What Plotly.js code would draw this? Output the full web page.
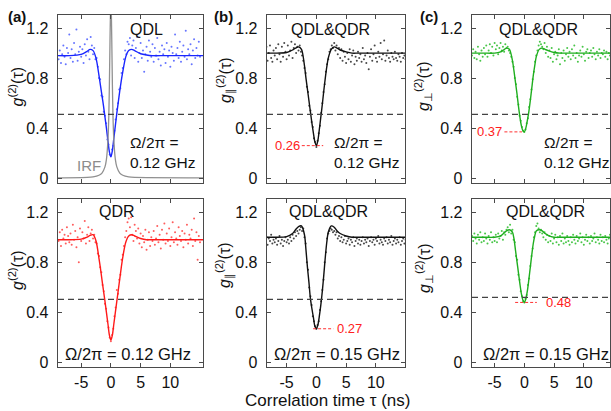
<!DOCTYPE html>
<html><head><meta charset="utf-8">
<script src="https://cdn.plot.ly/plotly-3.0.1.min.js"></script>
<style>html,body{margin:0;padding:0;background:#fff}#chart{width:611px;height:411px}</style>
</head><body><div id="chart"></div>
<script>
// ---------- data ----------
const tau = [
-8.8,-8.6,-8.4,-8.2,-8.0,-7.8,-7.6,-7.4,-7.2,-7.0,
-6.8,-6.6,-6.4,-6.2,-6.0,-5.8,-5.6,-5.4,-5.2,-5.0,
-4.8,-4.6,-4.4,-4.2,-4.0,-3.8,-3.6,-3.4,-3.2,-3.0,
-2.8,-2.6,-2.4,-2.2,-2.0,-1.8,-1.6,-1.4,-1.2,-1.0,
-0.8,-0.6,-0.4,-0.2,0.0,0.2,0.4,0.6,0.8,1.0,
1.2,1.4,1.6,1.8,2.0,2.2,2.4,2.6,2.8,3.0,
3.2,3.4,3.6,3.8,4.0,4.2,4.4,4.6,4.8,5.0,
5.2,5.4,5.6,5.8,6.0,6.2,6.4,6.6,6.8,7.0,
7.2,7.4,7.6,7.8,8.0,8.2,8.4,8.6,8.8,9.0,
9.2,9.4,9.6,9.8,10.0,10.2,10.4,10.6,10.8,11.0,
11.2,11.4,11.6,11.8,12.0,12.2,12.4,12.6,12.8,13.0,
13.2,13.4,13.6,13.8,14.0,14.2,14.4,14.6,14.8,15.0];

const qdlData = [
0.95,1.02,0.92,0.99,1.06,0.97,0.91,1.04,1.00,1.15,
0.96,1.03,0.93,1.08,0.99,1.19,0.94,1.01,1.05,0.97,
1.03,0.92,1.07,0.98,1.11,1.01,0.95,1.13,1.06,0.99,
1.04,0.95,0.96,0.89,0.80,0.79,0.66,0.65,0.53,0.50,
0.44,0.31,0.27,0.19,0.18,0.23,0.26,0.38,0.47,0.55,
0.60,0.71,0.72,0.84,0.88,0.95,1.02,0.99,1.09,1.07,
1.12,0.98,1.06,1.10,0.96,1.04,1.13,0.93,1.00,1.08,
0.96,1.02,0.85,0.99,1.05,0.94,1.10,1.01,0.97,1.07,
0.93,1.04,0.98,1.12,0.95,1.01,0.90,1.06,0.99,1.03,
0.92,1.08,0.97,1.02,0.89,1.05,1.00,0.94,1.15,0.99,
1.04,0.96,1.09,0.93,1.01,1.06,0.97,1.18,0.95,1.03,
0.99,1.07,0.91,1.02,1.11,0.96,1.04,0.98,1.09,0.97];

const qdrData = [
0.97,1.04,0.93,1.06,0.99,1.02,0.95,1.08,1.01,0.96,
1.03,0.94,1.10,0.98,1.05,0.92,1.00,0.80,1.07,0.97,
1.04,0.99,1.13,0.95,1.02,1.08,0.97,1.03,1.06,0.99,
1.02,0.96,0.95,0.87,0.85,0.76,0.72,0.62,0.57,0.47,
0.43,0.33,0.28,0.20,0.17,0.22,0.27,0.37,0.44,0.58,
0.55,0.66,0.70,0.82,0.86,0.93,1.00,1.05,1.12,1.15,
1.08,1.16,1.02,0.97,1.10,1.05,0.99,1.07,0.95,1.03,
0.92,1.01,0.96,1.06,0.90,0.98,1.04,0.93,1.00,0.97,
1.05,0.94,0.99,1.09,0.96,1.02,0.91,1.06,0.98,1.11,
0.95,1.03,0.97,1.07,0.93,1.00,1.12,0.96,1.04,0.99,
0.94,1.08,1.01,0.97,1.05,0.92,1.03,0.98,1.10,0.95,
1.02,0.99,1.06,0.93,1.15,0.97,1.04,0.82,1.01,0.96];

const parData012 = [
1.03,0.97,1.05,0.94,1.00,1.06,0.96,0.93,1.02,0.98,
1.04,0.95,1.07,0.99,0.93,1.05,0.97,1.08,1.01,0.95,
1.06,0.98,1.02,1.09,0.96,1.04,1.07,1.00,1.05,1.02,
1.06,1.01,0.98,0.94,0.88,0.84,0.73,0.69,0.58,0.54,
0.45,0.41,0.32,0.29,0.25,0.30,0.36,0.42,0.52,0.60,
0.69,0.75,0.85,0.91,0.95,1.01,1.03,1.06,1.04,1.08,
1.02,1.06,0.99,1.04,0.96,1.03,0.94,1.01,0.97,0.92,
1.00,0.95,1.03,0.93,0.98,1.02,0.91,0.97,0.94,1.01,
0.96,0.99,0.93,1.04,0.95,0.98,0.92,1.00,0.87,0.97,
1.03,0.94,0.99,1.06,0.96,0.93,1.01,0.97,1.08,0.95,
0.99,1.10,0.94,0.98,1.02,0.96,0.93,1.00,0.97,0.95,
1.01,0.96,0.94,0.99,0.97,0.93,1.00,0.96,0.98,0.95];

const parData015 = [
0.98,0.96,1.00,0.94,0.99,0.97,1.02,0.95,0.98,0.96,
0.99,0.94,0.97,1.01,0.95,0.98,0.93,0.97,1.00,0.96,
0.98,0.95,1.00,0.97,1.02,0.99,1.04,1.01,1.05,1.03,
1.06,1.08,1.05,1.07,1.00,0.95,0.80,0.74,0.60,0.53,
0.46,0.37,0.33,0.29,0.27,0.30,0.33,0.42,0.49,0.58,
0.66,0.80,0.88,0.99,1.03,1.05,1.07,1.06,1.04,1.05,
1.02,1.04,0.99,1.01,0.97,1.00,0.96,0.98,1.01,0.95,
0.97,0.99,0.94,0.98,0.96,1.00,0.93,0.97,0.99,0.95,
0.98,0.94,0.97,1.00,0.95,0.98,0.96,0.99,0.93,0.97,
1.00,0.96,0.98,0.94,0.99,0.97,1.01,0.95,0.98,0.96,
0.94,0.99,0.97,1.00,0.95,0.98,0.96,1.01,0.94,0.97,
0.99,0.95,0.98,0.96,1.00,0.94,0.97,0.99,0.95,0.98];

const perpData012 = [
0.98,1.03,0.96,1.01,0.95,1.05,0.99,0.94,1.02,0.97,
1.04,0.99,1.06,0.97,1.02,1.07,1.00,1.05,0.98,1.08,
1.03,1.06,0.99,1.04,1.08,1.02,1.05,1.01,1.07,1.04,
1.05,1.02,1.00,0.97,0.93,0.89,0.80,0.75,0.65,0.59,
0.50,0.46,0.41,0.38,0.37,0.39,0.44,0.48,0.57,0.63,
0.71,0.79,0.85,0.93,0.98,1.02,1.06,1.09,1.07,1.05,
1.03,1.08,1.00,1.05,0.97,1.02,0.96,1.04,0.93,0.99,
1.01,0.95,0.98,1.03,0.91,1.00,0.96,1.02,0.94,0.99,
1.04,0.97,1.01,0.95,1.03,0.98,1.06,0.96,1.00,0.93,
0.98,1.02,0.97,1.05,0.99,0.94,1.01,1.03,0.96,1.00,
1.02,0.97,1.04,0.99,0.95,1.01,0.98,1.03,0.96,1.00,
0.99,1.02,0.97,1.01,0.95,1.00,0.98,1.03,0.97,0.99];

const perpData015 = [
1.01,0.97,1.03,0.99,0.95,1.02,0.98,1.04,0.96,1.00,
0.97,1.03,0.99,0.95,1.01,0.98,1.04,0.96,1.00,0.97,
1.02,0.96,1.03,0.99,1.01,1.05,0.98,1.04,1.02,1.06,
1.08,1.04,1.10,1.03,1.06,0.98,0.96,0.85,0.82,0.70,
0.66,0.57,0.53,0.49,0.48,0.51,0.54,0.62,0.67,0.77,
0.85,0.91,1.00,1.04,1.09,1.11,1.07,1.04,1.06,1.03,
1.00,1.04,0.98,1.02,0.96,1.01,0.97,1.03,0.95,0.99,
1.02,0.96,1.00,0.94,1.01,0.97,1.03,0.95,0.99,0.96,
1.01,0.97,0.94,1.00,0.96,1.02,0.98,0.95,1.01,0.97,
0.99,1.03,0.96,1.00,0.94,0.98,1.02,0.97,1.00,0.95,
1.01,0.97,0.99,1.03,0.96,1.00,0.98,0.95,1.02,0.97,
1.00,0.96,1.01,0.98,0.95,0.99,1.02,0.97,1.00,0.98];

// fitted curves
const fitT = [-9,-7,-5,-4,-3.5,-3,-2.5,-2,-1.75,-1.5,-1.25,-1,-0.75,-0.5,-0.25,0,0.25,0.5,0.75,1,1.25,1.5,1.75,2,2.5,3,3.5,4,5,6,7,9,12,15.5];
const qdlFit = [0.98,0.98,0.99,1.015,1.03,1.02,0.96,0.82,0.74,0.66,0.58,0.49,0.40,0.30,0.21,0.17,0.22,0.32,0.42,0.52,0.61,0.70,0.78,0.85,0.97,1.02,1.03,1.02,0.995,0.985,0.98,0.98,0.98,0.98];
const qdrFit = [0.98,0.98,0.985,1.0,1.015,1.02,0.97,0.83,0.75,0.66,0.575,0.49,0.40,0.31,0.22,0.18,0.22,0.31,0.40,0.49,0.58,0.67,0.76,0.84,0.96,1.01,1.02,1.01,0.99,0.98,0.98,0.98,0.98,0.98];
const parFit012 = [1.0,1.0,1.005,1.025,1.04,1.05,1.03,0.90,0.80,0.71,0.62,0.53,0.44,0.36,0.29,0.26,0.30,0.39,0.49,0.59,0.70,0.80,0.89,0.96,1.03,1.05,1.04,1.025,1.01,1.0,1.0,1.0,1.0,1.0];
const parFit015 = [1.0,1.0,1.005,1.03,1.06,1.085,1.09,1.02,0.90,0.76,0.64,0.51,0.43,0.36,0.29,0.27,0.30,0.37,0.46,0.57,0.70,0.84,0.96,1.04,1.09,1.08,1.05,1.03,1.01,1.0,1.0,1.0,1.0,1.0];
const perpFit012 = [1.0,1.0,1.0,1.01,1.025,1.04,1.03,0.94,0.86,0.77,0.68,0.58,0.49,0.42,0.38,0.37,0.40,0.46,0.53,0.62,0.72,0.82,0.90,0.97,1.03,1.04,1.03,1.02,1.005,1.0,1.0,1.0,1.0,1.0];
const perpFit015 = [1.0,1.0,1.0,1.01,1.03,1.05,1.06,1.04,0.99,0.90,0.81,0.72,0.63,0.55,0.50,0.48,0.51,0.57,0.66,0.76,0.86,0.95,1.01,1.05,1.06,1.05,1.03,1.015,1.0,1.0,1.0,1.0,1.0,1.0];

// instrument response function
const irfT = [-9,-4,-3,-2,-1.5,-1,-0.75,-0.5,-0.35,-0.25,-0.15,0,0.15,0.25,0.35,0.5,0.75,1,1.5,2,3,4,15.5];
const irfY = [0.002,0.006,0.01,0.023,0.04,0.09,0.15,0.3,0.5,0.75,1.1,1.5,1.1,0.75,0.5,0.3,0.15,0.09,0.04,0.023,0.01,0.006,0.002];

// reference level (dashed) and dip minima (red labels)
const dashLevels = [0.51, 0.51, 0.51, 0.505, 0.505, 0.52];
const minValues = [0.26, 0.37, 0.27, 0.48];

const xTickVals = [-5, 0, 5, 10];
const xTickText = ['-5', '0', '5', '10'];
const yTickVals = [0, 0.4, 0.8, 1.2];
const yTickText = ['0', '0.4', '0.8', '1.2'];

const panelTitles = ['QDL', 'QDL&QDR', 'QDL&QDR', 'QDR', 'QDL&QDR', 'QDL&QDR'];
const rabiTexts = ['Ω/2π =<br>0.12 GHz', 'Ω/2π =<br>0.12 GHz', 'Ω/2π =<br>0.12 GHz',
                   'Ω/2π = 0.12 GHz', 'Ω/2π = 0.15 GHz', 'Ω/2π = 0.15 GHz'];
const yTitles = ['<i>g</i><sup>(2)</sup>(τ)', '<i>g</i><sub>∥</sub><sup>(2)</sup>(τ)', '<i>g</i><sub>⊥</sub><sup>(2)</sup>(τ)',
                 '<i>g</i><sup>(2)</sup>(τ)', '<i>g</i><sub>∥</sub><sup>(2)</sup>(τ)', '<i>g</i><sub>⊥</sub><sup>(2)</sup>(τ)'];
const panelLetters = ['(a)', '(b)', '(c)'];
const xTitle = 'Correlation time τ (ns)';

// ---------- layout / styling ----------
const W = 611, H = 411;
const FONT = '"Liberation Sans", Arial, sans-serif';
const AX = '#4a4a4a';
const series = [
  {data: qdlData,     fit: qdlFit,     dot: '#5566ff', line: '#1a26ff'},
  {data: parData012,  fit: parFit012,  dot: '#333333', line: '#111111'},
  {data: perpData012, fit: perpFit012, dot: '#35c035', line: '#1fae1f'},
  {data: qdrData,     fit: qdrFit,     dot: '#ff4a4a', line: '#ff1a1a'},
  {data: parData015,  fit: parFit015,  dot: '#333333', line: '#111111'},
  {data: perpData015, fit: perpFit015, dot: '#35c035', line: '#1fae1f'}
];
const cols = [{px:[58,203], xr:[-8.9,15.5]}, {px:[267,405], xr:[-8.3,14.9]}, {px:[472,610], xr:[-8.8,14.4]}];
const rows = [{py:[15,182.5]}, {py:[199,367]}];
const yRange = [-0.035, 1.305];

// in-panel text positions (data coords)
const titlePos = [[6.0,1.19],[2.3,1.19],[2.35,1.19],[1.1,1.203],[2.0,1.203],[3.48,1.203]];
const rabiPos  = [[2.9,0.205,'left',15.5],[2.67,0.205,'left',15.5],[3.0,0.205,'left',15.5],
                  [2.8,0.069,'center',16.5],[3.55,0.069,'center',16.5],[3.6,0.069,'center',16.5]];
const yTitlePx = [[16,86.5],[225,80],[423,86],[16,270],[224,265],[424,268]];
// red minima markers: [panel, dash x0, dash x1, text x, anchor]
const minMarks = [[1,-2.45,1.15,-2.5,'right'],[2,-3.35,-0.4,-3.4,'right'],[4,-0.55,2.85,3.1,'left'],[5,-1.55,2.1,3.3,'left']];

const traces = [], shapes = [], annotations = [];
const layout = {width: W, height: H, margin: {l:0,r:0,t:0,b:0}, showlegend: false,
  paper_bgcolor: '#fff', plot_bgcolor: '#fff', font: {family: FONT, color: '#111'}};

for (let i = 0; i < 6; i++) {
  const r = Math.floor(i / 3), c = i % 3;
  const n = i === 0 ? '' : String(i + 1);
  const xa = 'x' + n, ya = 'y' + n;
  layout['xaxis' + n] = {
    domain: [cols[c].px[0] / W, cols[c].px[1] / W], range: cols[c].xr, anchor: ya,
    tickvals: xTickVals, ticktext: xTickText, showticklabels: r === 1,
    ticks: 'inside', ticklen: 4, tickcolor: AX, tickwidth: 1,
    showline: true, linecolor: AX, linewidth: 1.3, mirror: 'ticks',
    showgrid: false, zeroline: false, tickfont: {size: 16, family: FONT, color: '#111'}
  };
  layout['yaxis' + n] = {
    domain: [1 - rows[r].py[1] / H, 1 - rows[r].py[0] / H], range: yRange, anchor: xa,
    tickvals: yTickVals, ticktext: yTickText,
    ticks: 'inside', ticklen: 4, tickcolor: AX, tickwidth: 1,
    showline: true, linecolor: AX, linewidth: 1.3, mirror: 'ticks',
    showgrid: false, zeroline: false, ticklabelstandoff: 5,
    tickfont: {size: 16, family: FONT, color: '#111'}
  };
  const s = series[i];
  traces.push({type: 'scatter', mode: 'markers', x: tau, y: s.data, xaxis: xa, yaxis: ya,
    marker: {size: 2, color: s.dot, opacity: 0.9}, hoverinfo: 'skip'});
  traces.push({type: 'scatter', mode: 'lines', x: fitT, y: s.fit, xaxis: xa, yaxis: ya,
    line: {color: s.line, width: 1.4, shape: 'spline', smoothing: 0.8}, hoverinfo: 'skip'});
  if (i === 0) {
    traces.push({type: 'scatter', mode: 'lines', x: irfT, y: irfY, xaxis: xa, yaxis: ya,
      line: {color: '#909090', width: 1.3, shape: 'spline', smoothing: 0.5}, hoverinfo: 'skip'});
    annotations.push({xref: xa, yref: ya, x: -3.7, y: 0.1, text: 'IRF', showarrow: false,
      font: {size: 15, color: '#8c8c8c', family: FONT}, xanchor: 'center', yanchor: 'middle'});
  }
  shapes.push({type: 'line', xref: xa + ' domain', yref: ya, x0: 0, x1: 1, y0: dashLevels[i], y1: dashLevels[i],
    line: {color: '#444', width: 1.2, dash: '6px,4px'}});
  annotations.push({xref: xa, yref: ya, x: titlePos[i][0], y: titlePos[i][1], text: panelTitles[i], showarrow: false,
    font: {size: 16, family: FONT, color: '#111'}, xanchor: 'center', yanchor: 'middle'});
  annotations.push({xref: xa, yref: ya, x: rabiPos[i][0], y: rabiPos[i][1], text: rabiTexts[i], showarrow: false,
    font: {size: rabiPos[i][3], family: FONT, color: '#111'}, xanchor: rabiPos[i][2], yanchor: 'middle', align: 'left'});
  annotations.push({xref: 'paper', yref: 'paper', x: yTitlePx[i][0] / W, y: 1 - yTitlePx[i][1] / H,
    text: yTitles[i], showarrow: false, textangle: -90, font: {size: 16, family: FONT, color: '#111'},
    xanchor: 'center', yanchor: 'middle'});
}

minMarks.forEach((m, k) => {
  const i = m[0], n = String(i + 1), v = minValues[k];
  traces.push({type: 'scatter', mode: 'lines', x: [m[1], m[2]], y: [v, v], xaxis: 'x' + n, yaxis: 'y' + n,
    line: {color: '#ff3030', width: 1, dash: '3px,2px'}, hoverinfo: 'skip'});
  annotations.push({xref: 'x' + n, yref: 'y' + n, x: m[3], y: v, text: v.toFixed(2), showarrow: false,
    font: {size: 13, family: FONT, color: '#ff2020'}, xanchor: m[4], yanchor: 'middle'});
});

const letterPx = [[16.5,17],[223,17],[428.5,17]];
panelLetters.forEach((t, k) => annotations.push({xref: 'paper', yref: 'paper', x: letterPx[k][0] / W, y: 1 - letterPx[k][1] / H,
  text: '<b>' + t + '</b>', showarrow: false, font: {size: 15, family: FONT, color: '#111'}, xanchor: 'center', yanchor: 'middle'}));

annotations.push({xref: 'paper', yref: 'paper', x: 327.5 / W, y: 1 - 400 / H, text: xTitle, showarrow: false,
  font: {size: 17, family: FONT, color: '#111'}, xanchor: 'center', yanchor: 'middle'});

layout.shapes = shapes;
layout.annotations = annotations;
Plotly.newPlot('chart', traces, layout, {staticPlot: true, displayModeBar: false});
</script>
</body></html>
